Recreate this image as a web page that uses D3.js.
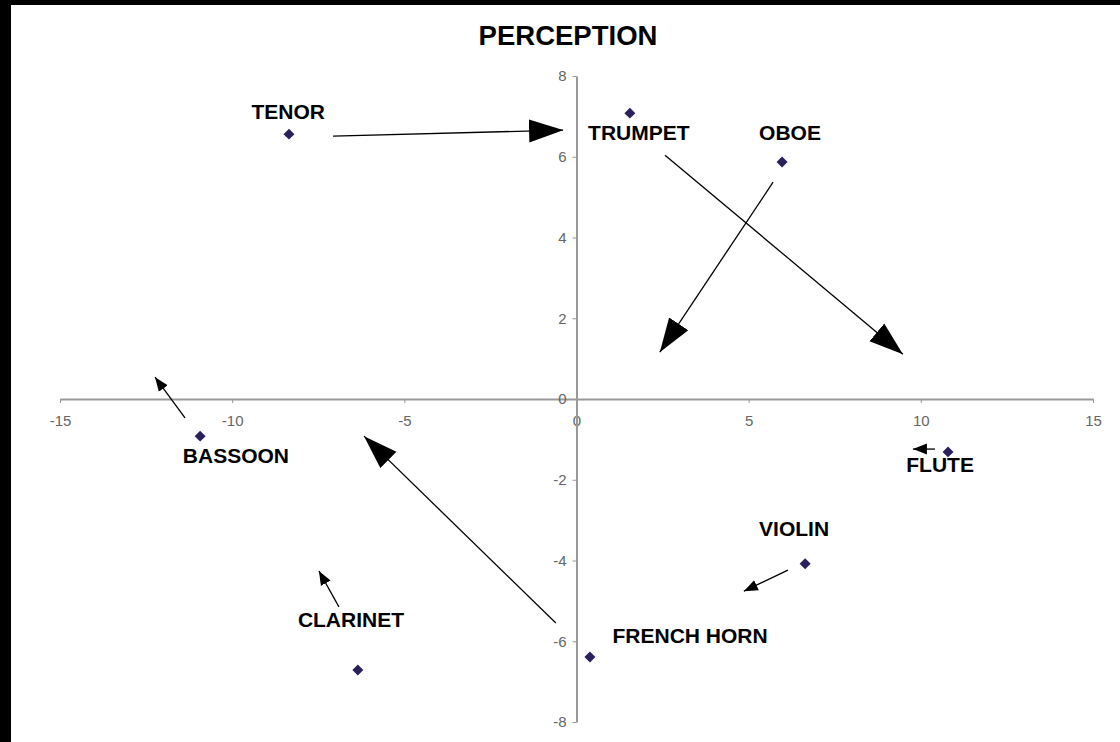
<!DOCTYPE html>
<html>
<head>
<meta charset="utf-8">
<script src="https://cdnjs.cloudflare.com/ajax/libs/d3/7.8.5/d3.min.js"></script>
<style>
  html, body { margin: 0; padding: 0; background: #000; }
  svg { display: block; }
  .axis text { font-family: "Liberation Sans", Arial, sans-serif; font-size: 15px; fill: #666; }
  .axis path, .axis line { stroke: #999; }
</style>
</head>
<body>
<div class="grafico"></div>
<script>
// instruments and their positions
var instrumentos = ["TENOR", "TRUMPET", "OBOE", "BASSOON", "FLUTE", "VIOLIN", "FRENCH HORN", "CLARINET"];
var puntoX = [-8.35, 1.55, 5.97, -10.93, 10.79, 6.64, 0.39, -6.35];
var puntoY = [6.56, 7.08, 5.87, -0.92, -1.31, -4.08, -6.39, -6.71];

// where each name is written (data units)
var etiquetaX = [-8.37, 1.81, 6.2, -9.89, 10.56, 6.32, 3.3, -6.55];
var etiquetaY = [7.11, 6.59, 6.59, -1.41, -1.63, -3.2, -5.85, -5.45];

// big arrows
var flechaGrandeDesdeX = [-7.07, 2.57, 5.71, -0.6];
var flechaGrandeDesdeY = [6.51, 6.04, 5.37, -5.55];
var flechaGrandeHastaX = [-0.39, 9.48, 2.42, -6.17];
var flechaGrandeHastaY = [6.66, 1.11, 1.16, -0.92];

// small arrows
var flechaChicaDesdeX = [6.14, -11.37, -6.9, 10.41];
var flechaChicaDesdeY = [-4.24, -0.47, -5.15, -1.24];
var flechaChicaHastaX = [4.86, -12.24, -7.48, 9.77];
var flechaChicaHastaY = [-4.76, 0.54, -4.26, -1.24];

var ticksX = [-15, -10, -5, 0, 5, 10, 15];
var ticksY = [-8, -6, -4, -2, 0, 2, 4, 6, 8];

var contenedor = d3
  .select('.grafico')
  .append('svg')
  .attr('width', 1120)
  .attr('height', 742);

contenedor.append('rect')
  .attr('x', 11)
  .attr('y', 5)
  .attr('width', 1109)
  .attr('height', 737)
  .attr('fill', '#fff');

const xScale = d3.scaleLinear()
  .domain([-15, 15])
  .range([60, 1093]);

const yScale = d3.scaleLinear()
  .domain([-8, 8])
  .range([722, 76]);

contenedor.append('text')
  .attr('x', 568)
  .attr('y', 45)
  .attr('text-anchor', 'middle')
  .style('font-family', '"Liberation Sans", Arial, sans-serif')
  .style('font-weight', 'bold')
  .style('font-size', '27.5px')
  .text('PERCEPTION');

// plain hyphen for negatives, like the original
var formato = d => String(d);

const xAxis = d3.axisBottom(xScale).tickValues(ticksX).tickFormat(formato).tickSize(4).tickPadding(12).tickSizeOuter(0);
const yAxis = d3.axisLeft(yScale).tickValues(ticksY).tickFormat(formato).tickSize(4).tickPadding(6).tickSizeOuter(0);

contenedor.append('g')
  .attr('class', 'axis')
  .attr('transform', 'translate(0,' + yScale(0) + ')')
  .call(xAxis)
  .call(g => g.select('.domain').attr('stroke-width', 2));

contenedor.append('g')
  .attr('class', 'axis')
  .attr('transform', 'translate(' + xScale(0) + ',0)')
  .call(yAxis)
  .call(g => g.select('.domain').attr('stroke-width', 2));

var defs = contenedor.append('defs');
defs.append('marker')
  .attr('id', 'puntaGrande')
  .attr('markerUnits', 'userSpaceOnUse')
  .attr('viewBox', '0 -12 34 24')
  .attr('refX', 34)
  .attr('refY', 0)
  .attr('markerWidth', 34)
  .attr('markerHeight', 24)
  .attr('orient', 'auto')
  .append('path')
  .attr('d', 'M0,-11.5L34,0L0,11.5Z')
  .attr('fill', '#000');

defs.append('marker')
  .attr('id', 'puntaChica')
  .attr('markerUnits', 'userSpaceOnUse')
  .attr('viewBox', '0 -6 14 12')
  .attr('refX', 14)
  .attr('refY', 0)
  .attr('markerWidth', 14)
  .attr('markerHeight', 12)
  .attr('orient', 'auto')
  .append('path')
  .attr('d', 'M0,-5.5L14,0L0,5.5Z')
  .attr('fill', '#000');

contenedor.append('g')
  .selectAll('line')
  .data(d3.range(flechaGrandeDesdeX.length))
  .enter()
  .append('line')
  .attr('x1', i => xScale(flechaGrandeDesdeX[i]))
  .attr('y1', i => yScale(flechaGrandeDesdeY[i]))
  .attr('x2', i => xScale(flechaGrandeHastaX[i]))
  .attr('y2', i => yScale(flechaGrandeHastaY[i]))
  .attr('stroke', '#000')
  .attr('stroke-width', 1.3)
  .attr('marker-end', 'url(#puntaGrande)');

contenedor.append('g')
  .selectAll('line')
  .data(d3.range(flechaChicaDesdeX.length))
  .enter()
  .append('line')
  .attr('x1', i => xScale(flechaChicaDesdeX[i]))
  .attr('y1', i => yScale(flechaChicaDesdeY[i]))
  .attr('x2', i => xScale(flechaChicaHastaX[i]))
  .attr('y2', i => yScale(flechaChicaHastaY[i]))
  .attr('stroke', '#000')
  .attr('stroke-width', 1.3)
  .attr('marker-end', 'url(#puntaChica)');

var rombo = d3.symbol().type(d3.symbolSquare).size(60);

contenedor.append('g')
  .selectAll('path')
  .data(d3.range(instrumentos.length))
  .enter()
  .append('path')
  .attr('d', rombo)
  .attr('transform', i => 'translate(' + xScale(puntoX[i]) + ',' + yScale(puntoY[i]) + ') rotate(45)')
  .attr('fill', '#2b1f5c');

contenedor.append('g')
  .selectAll('text')
  .data(d3.range(instrumentos.length))
  .enter()
  .append('text')
  .attr('x', i => xScale(etiquetaX[i]))
  .attr('y', i => yScale(etiquetaY[i]))
  .attr('dy', '0.36em')
  .attr('text-anchor', 'middle')
  .style('font-family', '"Liberation Sans", Arial, sans-serif')
  .style('font-weight', 'bold')
  .style('font-size', '21px')
  .text(i => instrumentos[i]);
</script>
</body>
</html>
